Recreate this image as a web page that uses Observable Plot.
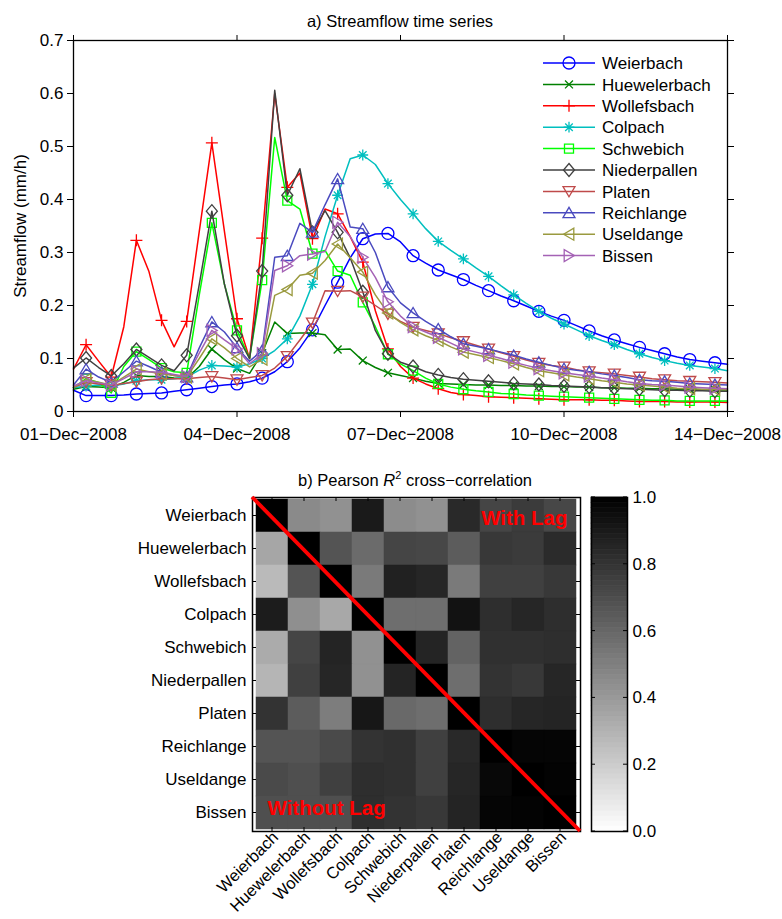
<!DOCTYPE html>
<html><head><meta charset="utf-8">
<script src="https://cdn.jsdelivr.net/npm/d3@7"></script>
<script src="https://cdn.jsdelivr.net/npm/@observablehq/plot@0.6"></script>
<style>
body{margin:0;background:#fff;}
#root{position:relative;width:782px;height:919px;font-family:"Liberation Sans",Arial,Helvetica,sans-serif;color:#000;overflow:hidden;}
.abs{position:absolute;}
.ttl{position:absolute;left:0;width:782px;text-align:center;font-size:16.5px;line-height:20px;white-space:nowrap;}
</style></head><body><div id="root"></div>
<script>
// ---------------- DATA ----------------
const stations = ["Weierbach","Huewelerbach","Wollefsbach","Colpach","Schwebich","Niederpallen","Platen","Reichlange","Useldange","Bissen"];
const stationColors = ["#0000ff","#008000","#ff0000","#00bfbf","#00ff00","#404040","#bf4a4a","#4a4abf","#9a9a3f","#a462b5"];
const stationMarkers = ["circle","x","plus","asterisk","square","diamond","triangle-down","triangle-up","triangle-left","triangle-right"];

// 6-hourly streamflow (mm/h) from 01-Dec-2008 00:00 to 14-Dec-2008 00:00
const stepDays = 0.25;
const weierbach = [0.040,0.030,0.030,0.030,0.031,0.033,0.034,0.035,0.038,0.041,0.044,0.047,0.050,0.052,0.056,0.063,0.075,0.094,0.120,0.154,0.200,0.244,0.290,0.326,0.335,0.336,0.320,0.294,0.280,0.267,0.258,0.249,0.238,0.228,0.218,0.209,0.199,0.189,0.180,0.172,0.162,0.152,0.143,0.135,0.128,0.121,0.115,0.109,0.103,0.098,0.095,0.092,0.089];
const huewelerbach = [0.042,0.047,0.046,0.045,0.055,0.068,0.066,0.066,0.063,0.062,0.085,0.118,0.098,0.081,0.072,0.110,0.169,0.147,0.148,0.148,0.145,0.117,0.118,0.096,0.083,0.073,0.068,0.063,0.057,0.053,0.052,0.051,0.050,0.050,0.049,0.049,0.048,0.048,0.047,0.047,0.046,0.046,0.045,0.045,0.044,0.044,0.043,0.043,0.042,0.042,0.041,0.041,0.040];
const wollefsbach = [0.080,0.126,0.095,0.065,0.160,0.323,0.264,0.172,0.122,0.170,0.340,0.507,0.340,0.175,0.100,0.327,0.600,0.423,0.450,0.326,0.382,0.373,0.330,0.282,0.190,0.118,0.085,0.063,0.052,0.043,0.036,0.032,0.030,0.028,0.027,0.026,0.025,0.024,0.023,0.022,0.022,0.022,0.021,0.021,0.020,0.019,0.019,0.019,0.018,0.018,0.018,0.018,0.017];
const colpach = [0.045,0.048,0.050,0.048,0.052,0.058,0.060,0.060,0.062,0.065,0.078,0.087,0.086,0.084,0.090,0.100,0.115,0.137,0.180,0.240,0.330,0.408,0.477,0.484,0.466,0.430,0.400,0.373,0.345,0.321,0.304,0.288,0.271,0.255,0.237,0.220,0.204,0.189,0.176,0.165,0.154,0.143,0.134,0.126,0.117,0.109,0.102,0.096,0.091,0.087,0.084,0.081,0.077];
const schwebich = [0.045,0.062,0.055,0.035,0.085,0.113,0.098,0.082,0.075,0.073,0.220,0.356,0.240,0.153,0.100,0.248,0.517,0.398,0.382,0.298,0.304,0.265,0.257,0.206,0.160,0.108,0.090,0.077,0.063,0.052,0.046,0.042,0.039,0.037,0.034,0.033,0.031,0.030,0.029,0.028,0.027,0.026,0.025,0.024,0.023,0.022,0.021,0.021,0.020,0.020,0.020,0.020,0.020];
const niederpallen = [0.082,0.101,0.083,0.067,0.090,0.117,0.102,0.087,0.077,0.106,0.240,0.378,0.240,0.143,0.100,0.265,0.606,0.408,0.458,0.338,0.379,0.338,0.290,0.226,0.153,0.109,0.093,0.085,0.075,0.069,0.064,0.061,0.059,0.057,0.055,0.053,0.052,0.051,0.049,0.048,0.047,0.046,0.045,0.044,0.043,0.042,0.041,0.040,0.040,0.039,0.039,0.038,0.038];
const platen = [0.045,0.055,0.052,0.049,0.053,0.056,0.060,0.062,0.062,0.062,0.064,0.066,0.063,0.060,0.064,0.068,0.082,0.104,0.135,0.167,0.228,0.227,0.228,0.216,0.200,0.184,0.170,0.159,0.153,0.147,0.139,0.132,0.125,0.118,0.111,0.104,0.097,0.091,0.087,0.084,0.079,0.075,0.073,0.071,0.068,0.065,0.062,0.060,0.058,0.057,0.056,0.055,0.054];
const reichlange = [0.050,0.080,0.065,0.055,0.075,0.095,0.085,0.074,0.068,0.065,0.120,0.169,0.150,0.120,0.095,0.115,0.291,0.294,0.355,0.338,0.390,0.439,0.348,0.345,0.300,0.235,0.205,0.186,0.170,0.156,0.141,0.128,0.123,0.118,0.112,0.106,0.099,0.093,0.087,0.081,0.078,0.075,0.071,0.068,0.064,0.060,0.058,0.057,0.055,0.053,0.052,0.051,0.050];
const useldange = [0.045,0.060,0.055,0.050,0.065,0.080,0.075,0.071,0.068,0.065,0.100,0.137,0.120,0.100,0.084,0.099,0.219,0.230,0.257,0.261,0.285,0.316,0.290,0.263,0.220,0.186,0.168,0.154,0.143,0.134,0.122,0.112,0.107,0.102,0.096,0.090,0.083,0.077,0.073,0.069,0.065,0.062,0.058,0.055,0.052,0.050,0.048,0.046,0.044,0.043,0.042,0.042,0.041];
const bissen = [0.048,0.058,0.054,0.050,0.062,0.075,0.075,0.074,0.070,0.066,0.110,0.153,0.135,0.118,0.090,0.109,0.266,0.275,0.294,0.297,0.302,0.357,0.330,0.291,0.253,0.207,0.180,0.160,0.150,0.140,0.129,0.118,0.112,0.106,0.100,0.093,0.087,0.081,0.077,0.073,0.070,0.067,0.063,0.060,0.056,0.053,0.051,0.050,0.048,0.046,0.045,0.044,0.043];

const dayTicks = [0, 3.25, 6.5, 9.75, 13];
const dayTickLabels = ["01\u2212Dec\u22122008","04\u2212Dec\u22122008","07\u2212Dec\u22122008","10\u2212Dec\u22122008","14\u2212Dec\u22122008"];
const flowTicks = [0,0.1,0.2,0.3,0.4,0.5,0.6,0.7];
const flowTickLabels = ["0","0.1","0.2","0.3","0.4","0.5","0.6","0.7"];

// Pearson R^2 matrix (rows top->bottom, columns left->right)
const r2Weierbach    = [1.00,0.46,0.43,0.90,0.45,0.43,0.84,0.73,0.77,0.72];
const r2Huewelerbach = [0.35,1.00,0.67,0.58,0.73,0.72,0.64,0.78,0.77,0.83];
const r2Wollefsbach  = [0.27,0.67,1.00,0.52,0.87,0.85,0.52,0.75,0.75,0.78];
const r2Colpach      = [0.89,0.44,0.34,1.00,0.57,0.57,0.93,0.82,0.85,0.82];
const r2Schwebich    = [0.33,0.73,0.86,0.43,1.00,0.86,0.61,0.81,0.81,0.82];
const r2Niederpallen = [0.29,0.75,0.85,0.43,0.86,1.00,0.57,0.80,0.78,0.85];
const r2Platen       = [0.80,0.64,0.51,0.91,0.59,0.57,1.00,0.82,0.85,0.86];
const r2Reichlange   = [0.67,0.67,0.71,0.80,0.81,0.75,0.84,1.00,0.98,0.98];
const r2Useldange    = [0.71,0.69,0.75,0.82,0.81,0.75,0.85,0.97,1.00,0.99];
const r2Bissen       = [0.69,0.69,0.69,0.82,0.80,0.78,0.86,0.98,0.99,1.00];
const colorbarTicks = [0,0.2,0.4,0.6,0.8,1.0];
const colorbarTickLabels = ["0.0","0.2","0.4","0.6","0.8","1.0"];
const colormapLevels = 64;

// ---------------- BUILD ----------------
const series = [weierbach,huewelerbach,wollefsbach,colpach,schwebich,niederpallen,platen,reichlange,useldange,bissen];
const r2Rows = [r2Weierbach,r2Huewelerbach,r2Wollefsbach,r2Colpach,r2Schwebich,r2Niederpallen,r2Platen,r2Reichlange,r2Useldange,r2Bissen];
const FONT = '"Liberation Sans", Arial, Helvetica, sans-serif';
const root = document.getElementById("root");

function rad(size){return Math.sqrt(size/Math.PI);}
const symbolDefs = {
  "circle": {draw(c,s){const r=rad(s); c.moveTo(r,0); c.arc(0,0,r,0,2*Math.PI);}},
  "x": {draw(c,s){const r=rad(s)*0.66; c.moveTo(-r,-r);c.lineTo(r,r);c.moveTo(r,-r);c.lineTo(-r,r);}},
  "plus": {draw(c,s){const r=rad(s)*1.0; c.moveTo(-r,0);c.lineTo(r,0);c.moveTo(0,-r);c.lineTo(0,r);}},
  "asterisk": {draw(c,s){const r=rad(s)*0.9, q=r*0.7; c.moveTo(-r,0);c.lineTo(r,0);c.moveTo(0,-r);c.lineTo(0,r);c.moveTo(-q,-q);c.lineTo(q,q);c.moveTo(q,-q);c.lineTo(-q,q);}},
  "square": {draw(c,s){const r=rad(s)*0.75; c.rect(-r,-r,2*r,2*r);}},
  "diamond": {draw(c,s){const r=rad(s)*1.08; c.moveTo(0,-r);c.lineTo(r*0.85,0);c.lineTo(0,r);c.lineTo(-r*0.85,0);c.closePath();}},
  "triangle-down": {draw(c,s){const r=rad(s); c.moveTo(-r,-0.8*r);c.lineTo(r,-0.8*r);c.lineTo(0,0.9*r);c.closePath();}},
  "triangle-up": {draw(c,s){const r=rad(s); c.moveTo(-r,0.8*r);c.lineTo(r,0.8*r);c.lineTo(0,-0.9*r);c.closePath();}},
  "triangle-left": {draw(c,s){const r=rad(s); c.moveTo(0.8*r,-r);c.lineTo(0.8*r,r);c.lineTo(-0.9*r,0);c.closePath();}},
  "triangle-right": {draw(c,s){const r=rad(s); c.moveTo(-0.8*r,-r);c.lineTo(-0.8*r,r);c.lineTo(0.9*r,0);c.closePath();}}
};

const flowRows = [];
stations.forEach((s,k)=>{
  series[k].forEach((v,i)=>flowRows.push({station:s, k, i, day:i*stepDays, q:v}));
});

const dayLabel = new Map(dayTicks.map((d,i)=>[d,dayTickLabels[i]]));
const flowLabel = new Map(flowTicks.map((d,i)=>[d,flowTickLabels[i]]));

const lineMarks = [];
stations.forEach((s,k)=>{
  const rows = flowRows.filter(r=>r.k===k);
  lineMarks.push(Plot.line(rows,{x:"day",y:"q",stroke:stationColors[k],strokeWidth:1.5}));
  lineMarks.push(Plot.dot(rows.filter(r=>r.i%2===1),{x:"day",y:"q",symbol:symbolDefs[stationMarkers[k]],r:6,stroke:stationColors[k],fill:"none",strokeWidth:1.3}));
});

const topPlot = Plot.plot({
  width:782, height:460,
  marginLeft:73, marginRight:55, marginTop:40, marginBottom:49,
  style:{fontFamily:FONT, fontSize:"17px", background:"transparent", overflow:"visible", color:"#000"},
  x:{domain:[0,13]},
  y:{domain:[0,0.7]},
  marks:[
    ...lineMarks,
    Plot.axisX({anchor:"bottom", ticks:dayTicks, tickFormat:d=>dayLabel.get(d), tickSize:6, tickPadding:10, label:null}),
    Plot.axisX({anchor:"top", ticks:dayTicks, tickFormat:()=>"", tickSize:6, label:null}),
    Plot.axisY({anchor:"left", ticks:flowTicks, tickFormat:d=>flowLabel.get(+d.toFixed(1)), tickSize:6, tickPadding:4, label:"Streamflow (mm/h)", labelAnchor:"center", labelOffset:60, labelArrow:"none"}),
    Plot.axisY({anchor:"right", ticks:flowTicks, tickFormat:()=>"", tickSize:6, label:null}),
    Plot.frame({stroke:"#000", strokeWidth:1.3})
  ]
});
topPlot.classList.add("abs");
topPlot.style.left="0px"; topPlot.style.top="0px";
root.appendChild(topPlot);

// legend
const leg = d3.select(root).append("svg").attr("class","abs").style("left","0px").style("top","0px")
  .attr("width",782).attr("height",460).style("font-family",FONT).style("font-size","17px");
const legTop = 63, legStep = 21.4;
stations.forEach((s,k)=>{
  const g = leg.append("g").attr("transform",`translate(0,${legTop+k*legStep})`);
  g.append("line").attr("x1",543).attr("x2",595).attr("y1",0).attr("y2",0).attr("stroke",stationColors[k]).attr("stroke-width",1.5);
  g.append("path").attr("transform","translate(569,0)").attr("d",d3.symbol(symbolDefs[stationMarkers[k]],36*Math.PI)())
    .attr("fill","none").attr("stroke",stationColors[k]).attr("stroke-width",1.3);
  g.append("text").attr("x",602).attr("dy","0.36em").text(s);
});

// titles
const t1 = document.createElement("div"); t1.className="ttl"; t1.style.top="11px"; t1.style.left="0px"; t1.style.width="800px";
t1.textContent="a) Streamflow time series"; root.appendChild(t1);
const t2 = document.createElement("div"); t2.className="ttl"; t2.style.top="470px"; t2.style.left="0px"; t2.style.width="830px";
t2.innerHTML='b) Pearson <i>R</i><sup style="font-size:11px;vertical-align:7px;line-height:0">2</sup> cross\u2212correlation'; root.appendChild(t2);

// heatmap
const cells = [];
stations.forEach((rowName,ri)=>stations.forEach((colName,ci)=>cells.push({row:rowName,col:colName,value:r2Rows[ri][ci]})));
const grayScale = {type:"linear", domain:[0,1], range:["white","black"]};

function diagonal(index, scales){
  const [x0,x1] = scales.x.range(); const [y0,y1] = scales.y.range();
  return d3.create("svg:line").attr("x1",x0).attr("y1",y0).attr("x2",x1).attr("y2",y1)
    .attr("stroke","#ff0000").attr("stroke-width",3.8).node();
}
// small inward ticks at every band centre on the four sides
function innerTicks(index, scales){
  const g = d3.create("svg:g").attr("stroke","#000").attr("stroke-width",1);
  const [x0,x1] = scales.x.range(); const [y0,y1] = scales.y.range();
  const bx = scales.x.bandwidth()/2, by = scales.y.bandwidth()/2, L = 4;
  stations.forEach(s=>{
    const cx = scales.x(s)+bx, cy = scales.y(s)+by;
    g.append("line").attr("x1",cx).attr("x2",cx).attr("y1",y0).attr("y2",y0+L);
    g.append("line").attr("x1",cx).attr("x2",cx).attr("y1",y1).attr("y2",y1-L);
    g.append("line").attr("y1",cy).attr("y2",cy).attr("x1",x0).attr("x2",x0+L);
    g.append("line").attr("y1",cy).attr("y2",cy).attr("x1",x1).attr("x2",x1-L);
  });
  return g.node();
}

const heat = Plot.plot({
  width:782, height:459,
  marginLeft:252, marginRight:202, marginTop:37, marginBottom:88,
  style:{fontFamily:FONT, fontSize:"17px", background:"transparent", overflow:"visible", color:"#000"},
  x:{domain:stations, padding:0},
  y:{domain:stations, padding:0},
  color:grayScale,
  marks:[
    Plot.cell(cells,{x:"col",y:"row",fill:"value",stroke:"value",strokeWidth:0.5}),
    innerTicks,
    Plot.axisX({anchor:"bottom", tickRotate:-45, tickSize:0, tickPadding:3, dx:3, fontSize:16.5, label:null}),
    Plot.axisY({anchor:"left", tickSize:0, tickPadding:6, label:null}),
    Plot.frame({stroke:"#000", strokeWidth:1.5}),
    diagonal,
    Plot.text(["With Lag"],{frameAnchor:"top-right", dx:-13, dy:21, textAnchor:"end", lineAnchor:"middle", fill:"#ff0000", fontWeight:"bold", fontSize:20.5}),
    Plot.text(["Without Lag"],{frameAnchor:"bottom-left", dx:15, dy:-23, textAnchor:"start", lineAnchor:"middle", fill:"#ff0000", fontWeight:"bold", fontSize:20.5})
  ]
});
heat.classList.add("abs");
heat.style.left="0px"; heat.style.top="460px";
root.appendChild(heat);

// colorbar
const levels = d3.range(colormapLevels).map(i=>({lo:i/colormapLevels, hi:(i+1)/colormapLevels, v:(i+0.5)/colormapLevels}));
const cbLabel = new Map(colorbarTicks.map((d,i)=>[d,colorbarTickLabels[i]]));
function cbTicks(index, scales, values, dims){
  const g = d3.create("svg:g").attr("stroke","#000").attr("stroke-width",1);
  const xr = dims.width - dims.marginRight, xl = dims.marginLeft, L = 4;
  colorbarTicks.forEach(t=>{
    const y = scales.y(t);
    g.append("line").attr("x1",xr).attr("x2",xr-L).attr("y1",y).attr("y2",y);
    g.append("line").attr("x1",xl).attr("x2",xl+L).attr("y1",y).attr("y2",y);
  });
  return g.node();
}
const cb = Plot.plot({
  width:191, height:459,
  marginLeft:0, marginRight:155, marginTop:37, marginBottom:88,
  style:{fontFamily:FONT, fontSize:"17px", background:"transparent", overflow:"visible", color:"#000"},
  y:{domain:[0,1]},
  color:grayScale,
  marks:[
    Plot.rectY(levels,{y1:"lo",y2:"hi",fill:"v",stroke:"v",strokeWidth:0.6}),
    cbTicks,
    Plot.axisY({anchor:"right", ticks:colorbarTicks, tickFormat:d=>cbLabel.get(+d.toFixed(1)), tickSize:0, tickPadding:5, label:null}),
    Plot.frame({stroke:"#000", strokeWidth:1.5})
  ]
});
cb.classList.add("abs");
cb.style.left="591px"; cb.style.top="460px";
root.appendChild(cb);
</script></body></html>
